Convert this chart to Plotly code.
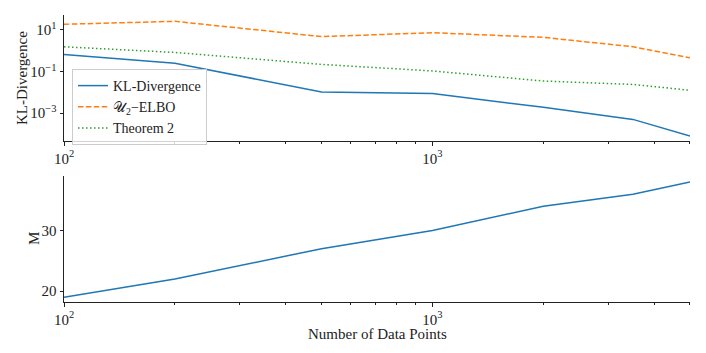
import plotly.graph_objects as go

# data
n_points = [100, 200, 500, 1000, 2000, 3500, 5000]
kl_div = [0.67, 0.25, 0.0105, 0.0087, 0.0019, 0.0005, 0.00008]
u2_elbo = [18.8, 26, 4.8, 7.4, 4.4, 1.56, 0.46]
theorem2 = [1.55, 0.83, 0.22, 0.107, 0.035, 0.024, 0.0126]
m_vals = [19, 22, 27, 30, 34, 36, 38]

FONT = "Liberation Serif"
minor_x = [200, 300, 400, 500, 600, 700, 800, 900, 2000, 3000, 4000, 5000]

# page body has an 8px margin, so the figure is drawn 8px smaller and offset
W, H, OFF = 698, 345, 8


def px_x(v):
    return (v - OFF) / W


def px_y(v):
    return 1 - (v - OFF) / H


fig = go.Figure()
fig.add_trace(go.Scatter(x=n_points, y=kl_div, mode="lines", name="KL-Divergence",
                         line=dict(color="#1f77b4", width=1.5), xaxis="x", yaxis="y"))
fig.add_trace(go.Scatter(x=n_points, y=u2_elbo, mode="lines", name="𝒰<sub>2</sub>−ELBO",
                         line=dict(color="#ff7f0e", width=1.5, dash="5.5px,2.4px"), xaxis="x", yaxis="y"))
fig.add_trace(go.Scatter(x=n_points, y=theorem2, mode="lines", name="Theorem 2",
                         line=dict(color="#2ca02c", width=1.5, dash="1.5px,2.5px"), xaxis="x", yaxis="y"))
fig.add_trace(go.Scatter(x=n_points, y=m_vals, mode="lines", showlegend=False,
                         line=dict(color="#1f77b4", width=1.5), xaxis="x2", yaxis="y2"))

tick_font = dict(family=FONT, size=15, color="#222")
title_font = dict(family=FONT, size=15, color="#222")

xaxis_common = dict(
    type="log", range=[2, 3.699], domain=[px_x(64), px_x(690)], automargin=False,
    showgrid=False, zeroline=False, showline=True, linecolor="#222", linewidth=1,
    ticks="outside", ticklen=3.5, tickcolor="#222",
    tickvals=[100, 1000], ticktext=["10<sup>2</sup>", "10<sup>3</sup>"],
    tickfont=tick_font,
    minor=dict(tickmode="array", tickvals=minor_x, ticks="outside", ticklen=2, tickcolor="#222"),
)

fig.update_layout(
    width=W, height=H,
    margin=dict(l=0, r=0, t=0, b=0),
    plot_bgcolor="white", paper_bgcolor="white",
    font=dict(family=FONT, size=15, color="#222"),
    xaxis=dict(xaxis_common, anchor="y"),
    xaxis2=dict(xaxis_common, anchor="y2"),
    yaxis=dict(
        type="log", range=[-4.34, 1.72], domain=[px_y(141), px_y(15)],
        anchor="x", automargin=False,
        showgrid=False, zeroline=False, showline=True, linecolor="#222", linewidth=1,
        ticks="outside", ticklen=3.5, tickcolor="#222",
        tickvals=[10, 0.1, 0.001],
        ticktext=["10<sup>1</sup>", "10<sup>−1</sup>", "10<sup>−3</sup>"],
        tickfont=tick_font,
    ),
    yaxis2=dict(
        range=[18.2, 39], domain=[px_y(302), px_y(176)],
        anchor="x2", automargin=False,
        showgrid=False, zeroline=False, showline=True, linecolor="#222", linewidth=1,
        ticks="outside", ticklen=3.5, tickcolor="#222",
        tickvals=[20, 30], tickfont=tick_font,
    ),
    legend=dict(
        x=px_x(72), y=px_y(69), xanchor="left", yanchor="top",
        bgcolor="rgba(255,255,255,0.8)", bordercolor="#ccc", borderwidth=1,
        font=dict(family=FONT, size=14, color="#222"),
        tracegroupgap=0, itemwidth=30,
    ),
)

# axis titles placed as annotations for exact positioning
for text, x, y, angle in [("Number of Data Points", 377, 334, 0),
                          ("KL-Divergence", 22, 78, -90),
                          ("M", 34, 239, -90)]:
    fig.add_annotation(text=text, x=px_x(x), y=px_y(y), textangle=angle,
                       xref="paper", yref="paper", xanchor="center", yanchor="middle",
                       showarrow=False, font=title_font)

fig.write_html("out.html")
